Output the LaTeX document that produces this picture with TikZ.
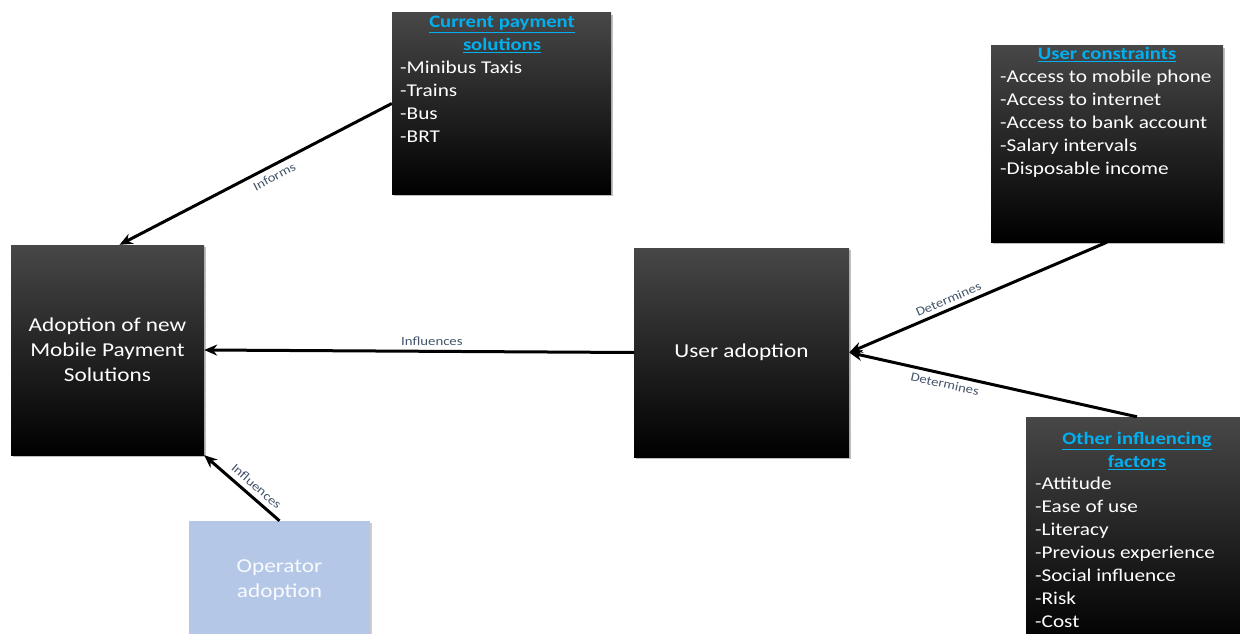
\documentclass[tikz,border=0pt]{standalone}
\usepackage{fontspec}
\setmainfont{Carlito}[FakeStretch=1.18]
\usetikzlibrary{arrows.meta,shadows,calc}
\definecolor{titleblue}{RGB}{0,176,240}
\definecolor{lblcol}{RGB}{68,84,106}
\definecolor{opfill}{RGB}{180,199,231}
\tikzset{
  darkbox/.style={rectangle, draw=none, top color=black!72, middle color=black, bottom color=black,
    drop shadow={shadow xshift=2pt, shadow yshift=-2pt, fill=black, opacity=0.25}, inner sep=0pt},
  lightbox/.style={rectangle, draw=none, fill=opfill,
    drop shadow={shadow xshift=2pt, shadow yshift=-2pt, fill=black, opacity=0.2}, inner sep=0pt},
  maintxt/.style={text=white, font=\fontsize{19.7}{25}\selectfont, align=center, inner sep=0pt},
  titletxt/.style={text=titleblue, font=\bfseries\fontsize{17.5}{23}\selectfont, align=center, inner sep=0pt},
  listtxt/.style={text=white, font=\fontsize{18}{23}\selectfont, align=left, inner sep=0pt},
  conn/.style={line width=3pt, -{Stealth[length=13pt,width=11pt]}, black},
  lbl/.style={text=lblcol, font=\fontsize{12.5}{14}\selectfont, sloped, inner sep=4pt},
}
\begin{document}
\begin{tikzpicture}[x=1pt,y=-1pt]
\useasboundingbox (0,0) rectangle (1240,634);
\clip (0,0) rectangle (1240,634);
% boxes
\node[darkbox, minimum width=219, minimum height=181] (cur) at (501.5,103.5) {};
\node[darkbox, minimum width=232, minimum height=196] (con) at (1107,144) {};
\node[darkbox, minimum width=222, minimum height=230] (oth) at (1137,532) {};
\node[darkbox, minimum width=193, minimum height=210] (adopt) at (107.5,350) {};
\node[darkbox, minimum width=215, minimum height=209] (uad) at (741.5,352.5) {};
\node[lightbox, minimum width=181, minimum height=130] (op) at (279.5,586) {};
% texts
\node[titletxt, anchor=north] (curt) at (502,16) {\underline{Current payment}\\\underline{solutions}};
\node[listtxt, anchor=north west] (curl) at (400,61) {-Minibus Taxis\\-Trains\\-Bus\\-BRT};
\node[titletxt, anchor=north] (cont) at (1107,47) {\underline{User constraints}};
\node[listtxt, anchor=north west] (conl) at (1000,70) {-Access to mobile phone\\-Access to internet\\-Access to bank account\\-Salary intervals\\-Disposable income};
\node[titletxt, anchor=north] (otht) at (1137,432) {\underline{Other influencing}\\\underline{factors}};
\node[listtxt, anchor=north west] (othl) at (1035,477) {-Attitude\\-Ease of use\\-Literacy\\-Previous experience\\-Social influence\\-Risk\\-Cost};
\node[maintxt] (adoptt) at (adopt.center) {Adoption of new\\Mobile Payment\\Solutions};
\node[maintxt] (uadt) at (uad.center) {User adoption};
\node[maintxt, text=white!92!opfill] (opt) at (279.5,580) {Operator\\adoption};
% connectors
\draw[conn] (cur.west) -- node[lbl, pos=0.45, below, inner sep=5pt] {Informs} ($(adopt.north)+(12,0)$);
\draw[conn] (uad.west) -- node[lbl, pos=0.47, above] {Influences} (adopt.east);
\draw[conn] (op.north) -- node[lbl, pos=0.4, above, inner sep=5pt] {Influences} (adopt.south east);
\draw[conn] (con.south) -- node[lbl, pos=0.6, above] {Determines} (uad.east);
\draw[conn] (oth.north) -- node[lbl, pos=0.66, below] {Determines} (uad.east);
\end{tikzpicture}
\end{document}
